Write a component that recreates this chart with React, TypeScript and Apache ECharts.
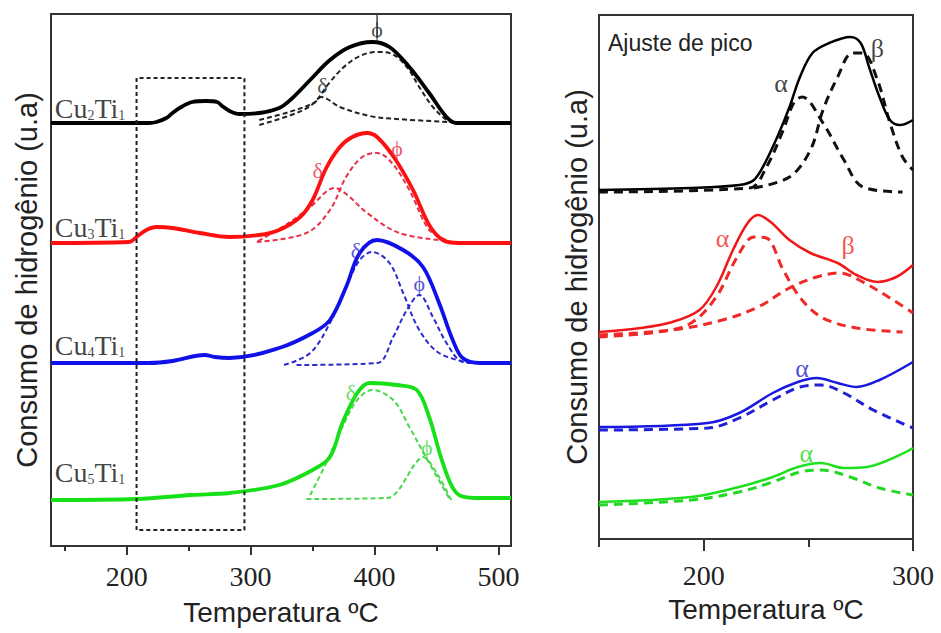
import React, { useEffect, useRef } from "react";
import * as echarts from "echarts";

// ---------- Left panel (TPR profiles, x = °C, y = arbitrary stacked units) ----------
const cu2Solid = [[139,423],[218,423],[224,424],[232,428],[237,433],[244,439],[253,444],[264,445],[273,444],[277,440],[283,435],[291,432],[307,433],[323,438],[332,446],[348,466],[364,486],[380,499],[398,504],[412,499],[428,479],[444,453],[458,429],[466,423],[510,423]];
const cu2Delta = [[307,426],[331,434],[351,443],[357,449],[372,439],[396,430],[418,427],[460,424]];
const cu2Phi = [[307,421],[337,433],[351,443],[364,464],[377,481],[390,491],[402,494],[412,493],[426,479],[436,459],[447,439],[458,426],[463,423]];
const cu2PhiMarker = [[402,532],[402,508]];

const cu3Solid = [[139,303],[202,304],[208,309],[216,316],[224,319],[237,318],[259,313],[283,309],[307,311],[323,316],[340,329],[350,346],[361,378],[372,399],[382,409],[394,413],[402,409],[416,388],[431,356],[444,321],[455,306],[468,303],[510,303]];
const cu3Delta = [[306,305],[332,324],[348,339],[368,358],[378,351],[394,333],[420,313],[460,305]];
const cu3Phi = [[305,304],[345,313],[364,336],[377,369],[390,389],[402,393],[414,383],[428,356],[444,316],[458,306]];

const cu4Solid = [[139,183],[218,183],[237,185],[263,191],[271,189],[283,188],[323,198],[350,213],[364,226],[377,259],[388,293],[402,306],[423,296],[439,279],[452,243],[463,206],[471,188],[485,183],[510,183]];
const cu4Delta = [[327,181],[348,193],[364,223],[377,259],[388,286],[398,294],[412,283],[423,253],[436,216],[452,193],[477,183]];
const cu4Phi = [[337,181],[402,183],[415,209],[426,236],[436,251],[447,229],[458,203],[471,184],[482,183]];

const cu5Solid = [[139,46],[208,47],[252,51],[283,53],[323,61],[350,76],[364,89],[374,123],[386,153],[396,163],[418,161],[434,156],[444,129],[455,83],[466,53],[481,48],[510,48]];
const cu5Delta = [[348,51],[361,83],[374,119],[386,146],[398,156],[415,146],[428,119],[444,83],[461,46]];
const cu5Phi = [[345,47],[410,48],[418,54],[426,69],[432,81],[439,89],[450,73],[463,43]];

const zoomBox = [[208,16],[208,468],[295,468],[295,16],[208,16]];

const leftMajorTicks = [200, 300, 400, 500];
const leftMinorTicks = [150, 250, 350, 450];

const sampleLabels = [
  { name: "Cu2Ti1", sub1: "2", pos: [142, 439] },
  { name: "Cu3Ti1", sub1: "3", pos: [142, 320] },
  { name: "Cu4Ti1", sub1: "4", pos: [142, 202] },
  { name: "Cu5Ti1", sub1: "5", pos: [142, 75] },
];

const leftPeakLabels = [
  { text: "ϕ", pos: [402, 517], color: "#222222" },
  { text: "δ", pos: [358, 461], color: "#222222" },
  { text: "δ", pos: [354, 376], color: "#e8304a" },
  { text: "ϕ", pos: [418, 398], color: "#e8304a" },
  { text: "δ", pos: [385, 296], color: "#2a2ad0" },
  { text: "ϕ", pos: [436, 263], color: "#2a2ad0" },
  { text: "δ", pos: [381, 154], color: "#3ad83a" },
  { text: "ϕ", pos: [442, 99], color: "#3ad83a" },
];

// ---------- Right panel (peak fitting, 150–300 °C) ----------
const r2Solid = [[150,349],[194,351],[217,354],[224,359],[230,379],[236,406],[241,432],[246,462],[252,486],[260,496],[270,502],[275,496],[279,472],[284,442],[289,419],[294,414],[300,419]];
const r2Alpha = [[150,347],[222,351],[230,372],[238,409],[243,436],[247,442],[257,416],[267,379],[276,352],[295,347]];
const r2Beta = [[224,351],[241,362],[251,389],[257,429],[264,462],[271,486],[276,486],[283,459],[289,416],[295,382],[300,369]];

const r3Solid = [[150,207],[170,211],[185,217],[198,229],[206,252],[214,289],[221,316],[226,324],[232,317],[241,299],[251,286],[264,276],[273,264],[283,257],[292,262],[300,274]];
const r3Alpha = [[150,202],[178,207],[194,216],[206,242],[216,282],[224,302],[230,301],[238,269],[247,239],[257,221],[273,211],[295,207]];
const r3Beta = [[150,204],[185,209],[209,219],[226,232],[241,251],[254,262],[265,266],[276,257],[289,241],[300,226]];

const r4Solid = [[150,112],[202,116],[217,126],[233,146],[245,157],[254,161],[264,156],[273,152],[284,159],[300,177]];
const r4Alpha = [[150,109],[202,111],[217,121],[233,139],[246,152],[256,154],[267,146],[281,129],[300,111]];

const r5Solid = [[150,37],[194,42],[217,52],[233,62],[245,72],[256,76],[267,71],[278,72],[300,91]];
const r5Alpha = [[150,34],[194,39],[217,47],[233,57],[246,67],[256,69],[270,62],[284,51],[300,44]];

const rightMajorTicks = [200, 300];
const rightMinorTicks = [150, 250];

const rightPeakLabels = [
  { text: "α", pos: [237, 456], color: "#111111" },
  { text: "β", pos: [283, 491], color: "#111111" },
  { text: "α", pos: [209, 301], color: "#f02828" },
  { text: "β", pos: [269, 294], color: "#f02828" },
  { text: "α", pos: [247, 171], color: "#2020d8" },
  { text: "α", pos: [249, 86], color: "#22d822" },
];

const SERIF = "'Liberation Serif', 'Times New Roman', 'DejaVu Serif', serif";
const SANS = "'Liberation Sans', Arial, 'DejaVu Sans', sans-serif";

function App() {
  const ref = useRef<HTMLDivElement>(null);

  useEffect(() => {
    document.body.style.margin = "0";
    if (!ref.current) return;
    const chart = echarts.init(ref.current, undefined, { renderer: "svg" });

    const line = (data: number[][], color: string, width: number, dashed: number[] | null, xi: number, yi: number, z = 3) => ({
      type: "line",
      data,
      xAxisIndex: xi,
      yAxisIndex: yi,
      showSymbol: false,
      symbol: "none",
      smooth: 0.35,
      silent: true,
      z,
      lineStyle: {
        color,
        width,
        type: dashed ? dashed : "solid",
        cap: "butt",
      },
    });

    const leftDash = [5, 3];
    const rightDash = [9, 6];

    const axisCommon = {
      type: "value",
      splitLine: { show: false },
    };

    const option: any = {
      animation: false,
      backgroundColor: "#ffffff",
      grid: [
        { left: 51, top: 14, width: 460, height: 532, show: true, borderColor: "#333333", borderWidth: 2, outerBoundsMode: "none", containLabel: false },
        { left: 599, top: 15, width: 314, height: 524, show: true, borderColor: "#333333", borderWidth: 2, outerBoundsMode: "none", containLabel: false },
      ],
      xAxis: [
        {
          ...axisCommon, gridIndex: 0, position: "bottom", min: 139, max: 510,
          axisLine: { show: true, lineStyle: { color: "#333333", width: 2 } },
          axisTick: { show: true, customValues: leftMajorTicks, length: 9, lineStyle: { color: "#333333", width: 2 } },
          axisLabel: { show: true, customValues: leftMajorTicks, margin: 16, fontFamily: SERIF, fontSize: 28, color: "#222222" },
          name: "Temperatura ºC", nameLocation: "middle", nameGap: 52,
          nameTextStyle: { fontFamily: SANS, fontSize: 28, color: "#222222" },
        },
        {
          ...axisCommon, gridIndex: 0, position: "bottom", min: 139, max: 510,
          axisLine: { show: false },
          axisTick: { show: true, customValues: leftMinorTicks, length: 5, lineStyle: { color: "#333333", width: 2 } },
          axisLabel: { show: false },
        },
        {
          ...axisCommon, gridIndex: 1, position: "bottom", min: 150, max: 300,
          axisLine: { show: true, lineStyle: { color: "#333333", width: 2 } },
          axisTick: { show: true, customValues: rightMajorTicks, length: 12, lineStyle: { color: "#333333", width: 2 } },
          axisLabel: { show: true, customValues: rightMajorTicks, margin: 22, fontFamily: SERIF, fontSize: 28, color: "#222222" },
          name: "Temperatura ºC", nameLocation: "middle", nameGap: 56,
          nameTextStyle: { fontFamily: SANS, fontSize: 28, color: "#222222", padding: [0, 0, 0, 20] },
        },
        {
          ...axisCommon, gridIndex: 1, position: "bottom", min: 150, max: 300,
          axisLine: { show: false },
          axisTick: { show: true, customValues: rightMinorTicks, length: 8, lineStyle: { color: "#333333", width: 2 } },
          axisLabel: { show: false },
        },
      ],
      yAxis: [
        {
          ...axisCommon, gridIndex: 0, min: 0, max: 532,
          axisLine: { show: false }, axisTick: { show: false }, axisLabel: { show: false },
          name: "Consumo de hidrogênio (u.a)", nameLocation: "middle", nameGap: 10, nameRotate: 90,
          nameTextStyle: { fontFamily: SANS, fontSize: 29, color: "#222222" },
        },
        {
          ...axisCommon, gridIndex: 1, min: 0, max: 524,
          axisLine: { show: false }, axisTick: { show: false }, axisLabel: { show: false },
          name: "Consumo de hidrogênio (u.a)", nameLocation: "middle", nameGap: 8, nameRotate: 90,
          nameTextStyle: { fontFamily: SANS, fontSize: 29, color: "#222222" },
        },
      ],
      graphic: [
        {
          type: "text", left: 608, top: 31, silent: true,
          style: { text: "Ajuste de pico", fontFamily: SANS, fontSize: 23, fill: "#222222" },
        },
      ],
      series: [
        // left panel: fitted components (dashed)
        line(cu2Delta, "#222222", 2, leftDash, 0, 0, 2),
        line(cu2Phi, "#222222", 2, leftDash, 0, 0, 2),
        line(cu3Delta, "#e8304a", 2, leftDash, 0, 0, 2),
        line(cu3Phi, "#e8304a", 2, leftDash, 0, 0, 2),
        line(cu4Delta, "#2a2ad0", 2, leftDash, 0, 0, 2),
        line(cu4Phi, "#2a2ad0", 2, leftDash, 0, 0, 2),
        line(cu5Delta, "#4ad84a", 2, leftDash, 0, 0, 2),
        line(cu5Phi, "#4ad84a", 2, leftDash, 0, 0, 2),
        // left panel: measured profiles
        line(cu2Solid, "#000000", 3.8, null, 0, 0, 3),
        line(cu3Solid, "#ff1010", 3.8, null, 0, 0, 3),
        line(cu4Solid, "#1010e8", 3.8, null, 0, 0, 3),
        line(cu5Solid, "#18e018", 3.8, null, 0, 0, 3),
        {
          type: "line", data: cu2PhiMarker, xAxisIndex: 0, yAxisIndex: 0, showSymbol: false, symbol: "none",
          silent: true, z: 4, lineStyle: { color: "#444444", width: 1.5 },
        },
        // zoom window
        {
          type: "line", data: zoomBox, xAxisIndex: 0, yAxisIndex: 0, showSymbol: false, symbol: "none",
          smooth: false, silent: true, z: 4,
          lineStyle: { color: "#222222", width: 2, type: [4, 3] },
        },
        // right panel
        line(r2Alpha, "#111111", 3, rightDash, 2, 1, 2),
        line(r2Beta, "#111111", 3, rightDash, 2, 1, 2),
        line(r3Alpha, "#f02828", 3, rightDash, 2, 1, 2),
        line(r3Beta, "#f02828", 3, rightDash, 2, 1, 2),
        line(r4Alpha, "#2020d8", 3, rightDash, 2, 1, 2),
        line(r5Alpha, "#22d822", 3, rightDash, 2, 1, 2),
        line(r2Solid, "#000000", 2.5, null, 2, 1, 3),
        line(r3Solid, "#f01818", 2.5, null, 2, 1, 3),
        line(r4Solid, "#1818e0", 2.5, null, 2, 1, 3),
        line(r5Solid, "#1ee01e", 2.5, null, 2, 1, 3),
        // sample labels
        {
          type: "scatter", xAxisIndex: 0, yAxisIndex: 0, symbolSize: 0, silent: true, z: 5,
          data: sampleLabels.map((s) => ({ value: s.pos, name: s.name, sub: s.sub1 })),
          label: {
            show: true, position: [0, 0], align: "left", verticalAlign: "middle",
            formatter: (p: any) => `{a|Cu}{s|${p.data.sub}}{a|Ti}{s|1}`,
            rich: {
              a: { fontFamily: SERIF, fontSize: 28, color: "#111111", verticalAlign: "bottom", lineHeight: 30 },
              s: { fontFamily: SERIF, fontSize: 14, color: "#111111", verticalAlign: "bottom", lineHeight: 24 },
            },
          },
        },
        // left peak labels
        ...leftPeakLabels.map((l) => ({
          type: "scatter", xAxisIndex: 0, yAxisIndex: 0, symbolSize: 0, silent: true, z: 5,
          data: [{ value: l.pos, name: l.text }],
          label: {
            show: true, position: [0, 0], align: "center", verticalAlign: "middle",
            formatter: "{b}", fontFamily: SERIF, fontSize: 22, color: l.color,
          },
        })),
        // right peak labels
        ...rightPeakLabels.map((l) => ({
          type: "scatter", xAxisIndex: 2, yAxisIndex: 1, symbolSize: 0, silent: true, z: 5,
          data: [{ value: l.pos, name: l.text }],
          label: {
            show: true, position: [0, 0], align: "center", verticalAlign: "middle",
            formatter: "{b}", fontFamily: SERIF, fontSize: 26, color: l.color,
          },
        })),
      ],
    };

    chart.setOption(option);
    return () => {
      chart.dispose();
    };
  }, []);

  return <div ref={ref} style={{ width: 941, height: 633, background: "#fff" }} />;
}

export default App;
